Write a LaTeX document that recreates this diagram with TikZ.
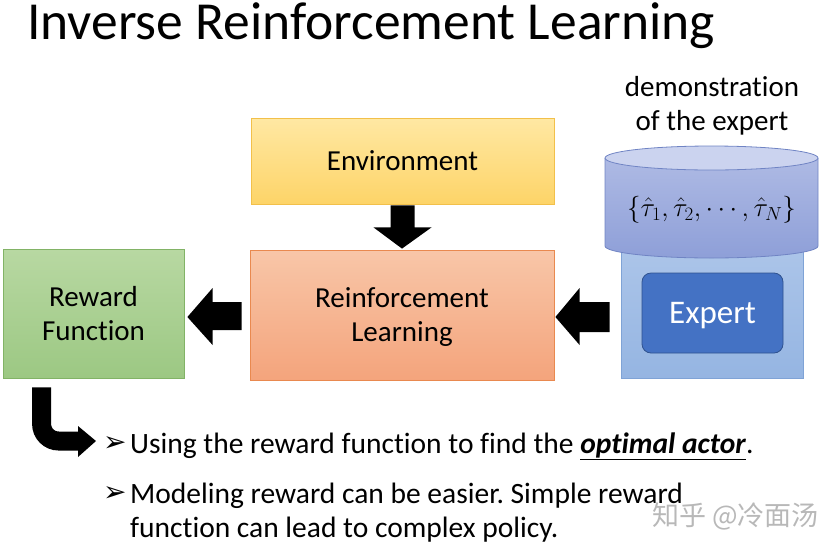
\RequirePackage{fix-cm}
\documentclass[tikz,border=0pt]{standalone}
\usepackage{fontspec}
\setmainfont{Carlito}[Ligatures={NoCommon}]
\newfontfamily\symfont{DejaVu Sans}
\newfontfamily\cjkfont{Noto Sans CJK SC}
\usetikzlibrary{calc}
\frenchspacing
\definecolor{envTop}{HTML}{FFE8A3}
\definecolor{envBot}{HTML}{FDD468}
\definecolor{envLine}{HTML}{F2C04A}
\definecolor{rlTop}{HTML}{F8C6A8}
\definecolor{rlBot}{HTML}{F4A47C}
\definecolor{rlLine}{HTML}{E9894F}
\definecolor{rewTop}{HTML}{B8D8A2}
\definecolor{rewBot}{HTML}{9CC883}
\definecolor{rewLine}{HTML}{82B366}
\definecolor{bgTop}{HTML}{AFC7EA}
\definecolor{bgBot}{HTML}{95B5E2}
\definecolor{bgLine}{HTML}{7FA3D6}
\definecolor{cylTop}{HTML}{AEBAE4}
\definecolor{cylBot}{HTML}{8E9FD8}
\definecolor{cylFace}{HTML}{CBD3EF}
\definecolor{cylLine}{HTML}{7084C4}
\definecolor{expFill}{HTML}{4472C4}
\definecolor{expLine}{HTML}{2F528F}
\begin{document}
\begin{tikzpicture}[x=1pt,y=-1pt,
  box/.style={draw, line width=0.8pt, inner sep=0pt, align=center,
    font=\fontsize{29}{34}\selectfont},
  txt/.style={anchor=base west, inner sep=0pt, font=\fontsize{29.5}{34}\selectfont},
  bul/.style={anchor=base west, inner sep=0pt, font=\symfont\fontsize{28}{28}\selectfont},
  blockarrow/.style={fill=black}]
\useasboundingbox (0,0) rectangle (825,547);

\node[anchor=base west, inner sep=0pt, font=\fontsize{53.5}{53.5}\selectfont] (title) at (27,39) {Inverse Reinforcement Learning};

\node[box, minimum width=303pt, minimum height=86pt, top color=envTop, bottom color=envBot, draw=envLine] (env) at (402.5,161) {Environment};
\node[box, minimum width=304pt, minimum height=130pt, top color=rlTop, bottom color=rlBot, draw=rlLine, text depth=0pt] (rl) at (402,315) {Reinforcement\\Learning};
\node[box, minimum width=181pt, minimum height=129pt, top color=rewTop, bottom color=rewBot, draw=rewLine] (rew) at (93.5,313.5) {Reward\\Function};

\node[align=center, inner sep=0pt, font=\fontsize{29}{34}\selectfont] (demo) at (712,106) {demonstration\\of the expert};

% expert background
\node[draw=bgLine, line width=0.8pt, top color=bgTop, bottom color=bgBot, minimum width=182pt, minimum height=148pt, inner sep=0pt] (bg) at (712,304) {};
% cylinder
\shade[top color=cylTop, bottom color=cylBot] (605,158) -- (605,246)
  .. controls (605,252.6) and (652.7,258) .. (711.5,258)
  .. controls (770.3,258) and (818,252.6) .. (818,246) -- (818,158) -- cycle;
\draw[cylLine, line width=0.8pt] (605,158) -- (605,246)
  .. controls (605,252.6) and (652.7,258) .. (711.5,258)
  .. controls (770.3,258) and (818,252.6) .. (818,246) -- (818,158);
\draw[cylLine, line width=0.8pt, fill=cylFace] (711.5,158) ellipse [x radius=106.5, y radius=12];
\node[inner sep=0pt, font=\fontsize{27}{27}\selectfont] (traj) at (711.5,210) {$\{\hat{\tau}_1,\hat{\tau}_2,\cdots,\hat{\tau}_N\}$};

\node[draw=expLine, line width=0.8pt, fill=expFill, rounded corners=9pt, minimum width=141pt, minimum height=80pt, inner sep=0pt, text=white, text depth=0pt, font=\fontsize{33}{33}\selectfont] (exp) at (712.5,313) {Expert};

% block arrows
\fill[blockarrow] ($(env.south)+(-12,1)$) -- ($(env.south)+(12,1)$) -- ($(env.south)+(12,23)$)
  -- ($(env.south)+(29,23)$) -- ($(rl.north)+(0,-1)$) -- ($(env.south)+(-29,23)$)
  -- ($(env.south)+(-12,23)$) -- cycle;
\fill[blockarrow] ($(rl.west)+(-8,-13)$) -- ($(rl.west)+(-8,15)$) -- ($(rl.west)+(-37,15)$)
  -- ($(rl.west)+(-37,30)$) -- ($(rew.east |- rl.west)+(3,2)$) -- ($(rl.west)+(-37,-27)$)
  -- ($(rl.west)+(-37,-13)$) -- cycle;
\fill[blockarrow] ($(bg.west)+(-11,-2)$) -- ($(bg.west)+(-11,28)$) -- ($(bg.west)+(-41,28)$)
  -- ($(bg.west)+(-41,41)$) -- ($(rl.east)+(1,2)$) -- ($(bg.west)+(-41,-16)$)
  -- ($(bg.west)+(-41,-2)$) -- cycle;

% bullets
\node[bul] (m1) at (103,451) {➢};
\node[txt] (b1) at (130,453) {Using the reward function to find the \underline{\textbf{\textit{optimal actor}}}.};
\node[bul] (m2) at (103,501) {➢};
\node[txt] (b2) at (130,503) {Modeling reward can be easier. Simple reward};
\node[txt] (b3) at (130,537) {function can lead to complex policy.};

% bent arrow
\coordinate (bstart) at ($(rew.south west)+(39,9)$);
\coordinate (bend) at (96,441);
\draw[line width=19pt, rounded corners=17pt] (bstart) -- (bstart |- bend) -- ($(bend)+(-17,0)$);
\fill[blockarrow] ($(bend)+(-18,-15)$) -- (bend) -- ($(bend)+(-18,16)$) -- cycle;

\node[anchor=base west, inner sep=0pt, font=\cjkfont\fontsize{27}{27}\selectfont, text=black!28] (wm) at (652,525) {知乎 @冷面汤};
\end{tikzpicture}
\end{document}
